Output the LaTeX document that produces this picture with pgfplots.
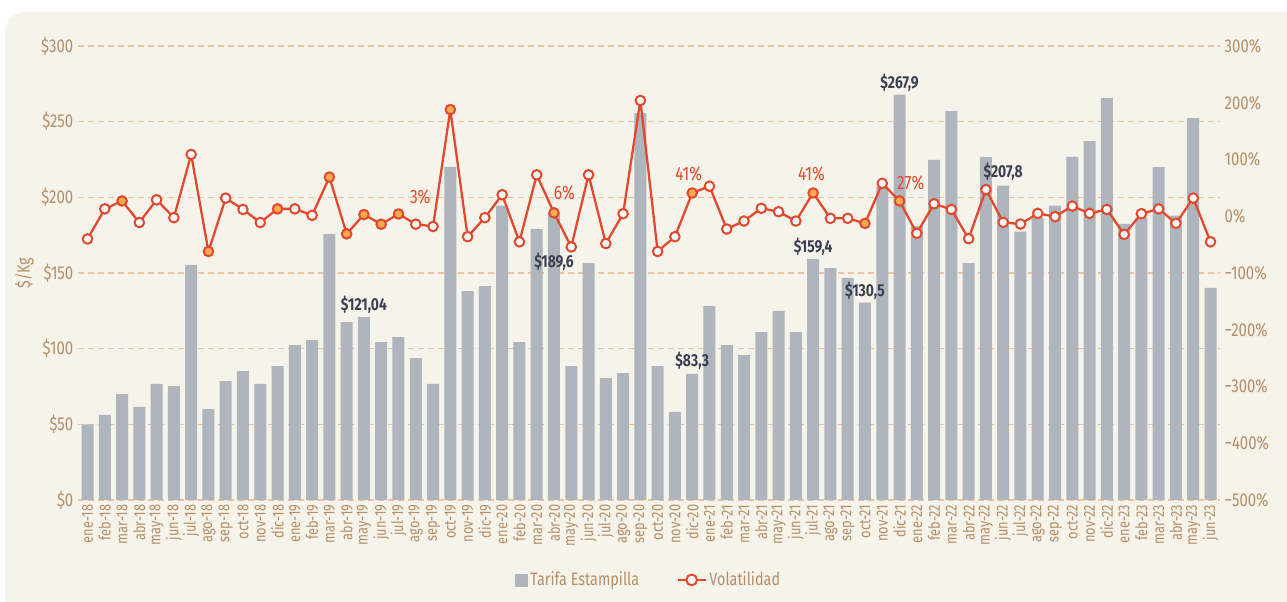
\documentclass[border=0pt]{standalone}
\usepackage{fontspec}
\setmainfont{Fira Sans}[FakeStretch=0.8]
\usepackage{pgfplots}
\pgfplotsset{compat=1.18}
\usepackage{pgfplotstable}
\definecolor{bg}{HTML}{F6F3EA}
\definecolor{barcol}{HTML}{AEB5BD}
\definecolor{linecol}{HTML}{E2482D}
\definecolor{orangefill}{HTML}{FAAA50}
\definecolor{tickcol}{HTML}{B48E68}
\definecolor{gridcol}{HTML}{E9C3A0}
\definecolor{labcol}{HTML}{3C4252}

\pgfplotstableread{
x v
0 50
1 56.2
2 70.0
3 61.5
4 76.7
5 75.3
6 155.3
7 60.1
8 78.6
9 85.2
10 76.7
11 88.5
12 102.4
13 105.7
14 175.8
15 117.6
16 121.04
17 104.4
18 107.7
19 93.8
20 76.7
21 220.2
22 138.1
23 141.4
24 194.5
25 104.4
26 179.1
27 189.6
28 88.5
29 156.6
30 80.6
31 83.9
32 255.7
33 88.5
34 58.2
35 83.3
36 128.2
37 102.4
38 95.8
39 111.0
40 124.9
41 111.0
42 159.4
43 153.3
44 146.7
45 130.5
46 207
47 267.9
48 181
49 224.7
50 257
51 156.6
52 226.7
53 207.8
54 177.3
55 186.4
56 194.6
57 226.7
58 237.2
59 265.6
60 182.4
61 186.6
62 220
63 187.9
64 252.4
65 140.1
}\bardata

\pgfplotstableread{
x v c
0 -40 w
1 13 w
2 27 o
3 -11 w
4 29 w
5 -2.5 w
6 109 w
7 -62 o
8 32 w
9 12 w
10 -11 w
11 13 o
12 13 w
13 1.6 w
14 69 o
15 -31 o
16 3 o
17 -14 o
18 4 o
19 -14 w
20 -18 w
21 188 o
22 -36 w
23 -2.5 w
24 38 w
25 -45 w
26 73 w
27 6 o
28 -54 w
29 73 w
30 -48 w
31 4.5 w
32 204 w
33 -62 w
34 -36 w
35 41 o
36 53 w
37 -22.5 w
38 -8.4 w
39 14 w
40 8 w
41 -8.4 w
42 41 o
43 -3.7 w
44 -3.7 w
45 -12.5 o
46 58 w
47 27 o
48 -30 w
49 22 w
50 12 w
51 -39.5 w
52 47 w
53 -10.7 w
54 -13.7 w
55 5 w
56 -0.7 w
57 18 w
58 5 w
59 12 w
60 -32 w
61 4.5 w
62 13 w
63 -12.5 w
64 32 w
65 -45 w
}\voldata

\begin{document}
\begin{tikzpicture}
\path[use as bounding box] (0,0) rectangle (965.25pt,450.75pt);
\fill[white] (0,0) rectangle (965.25pt,450.75pt);
\fill[bg, rounded corners=15pt] (3.75pt,-12pt) rectangle (978pt,441.75pt);

\begin{axis}[
  at={(58.5pt,75.75pt)}, anchor=south west,
  scale only axis, width=856.5pt, height=340.5pt,
  xmin=-0.55, xmax=65.55, ymin=0, ymax=300,
  axis line style={draw=none}, major tick length=0pt,
  ytick={0,50,...,300},
  yticklabels={\$0,\$50,\$100,\$150,\$200,\$250,\$300},
  yticklabel style={font=\fontsize{14}{14}\selectfont, text=tickcol},
  xtick={0,...,65},
  xticklabels={ene-18,feb-18,mar-18,abr-18,may-18,jun-18,jul-18,ago-18,sep-18,oct-18,nov-18,dic-18,
    ene-19,feb-19,mar-19,abr-19,may-19,jun-19,jul-19,ago-19,sep-19,oct-19,nov-19,dic-19,
    ene-20,feb-20,mar-20,abr-20,may-20,jun-20,jul-20,ago-20,sep-20,oct-20,nov-20,dic-20,
    ene-21,feb-21,mar-21,abr-21,may-21,jun-21,jul-21,ago-21,sep-21,oct-21,nov-21,dic-21,
    ene-22,feb-22,mar-22,abr-22,may-22,jun-22,jul-22,ago-22,sep-22,oct-22,nov-22,dic-22,
    ene-23,feb-23,mar-23,abr-23,may-23,jun-23},
  xticklabel style={rotate=90, anchor=east, font=\fontsize{12}{12}\selectfont, text=tickcol},
  ymajorgrids, grid style={gridcol, dash pattern=on 4.5pt off 3pt, line width=0.8pt},
  ylabel={\$/Kg},
  ylabel style={at={(axis description cs:-0.047,0.5)}, anchor=center, font=\fontsize{13.5}{13.5}\selectfont, text=tickcol},
  clip=false,
]
\addplot[ybar, bar width=9pt, fill=barcol, draw=none] table[x=x,y=v] {\bardata};
\begin{scope}[every node/.style={font=\bfseries\fontsize{13}{13}\selectfont, text=labcol}]
\node at (axis cs:16,128.9) {\$121,04};
\node at (axis cs:27,157.3) {\$189,6};
\node at (axis cs:35,91.9) {\$83,3};
\node at (axis cs:42,167.2) {\$159,4};
\node at (axis cs:45,138.3) {\$130,5};
\node at (axis cs:47,275.4) {\$267,9};
\node at (axis cs:53,216.9) {\$207,8};
\end{scope}
\begin{scope}[every node/.style={font=\fontsize{14.5}{14.5}\selectfont, text=linecol}]
\node at (axis cs:19.26,200.4) {3\%};
\node at (axis cs:27.6,202.7) {6\%};
\node at (axis cs:34.8,215.6) {41\%};
\node at (axis cs:41.9,215.6) {41\%};
\node at (axis cs:47.65,209.8) {27\%};
\end{scope}
\end{axis}

\begin{axis}[
  at={(58.5pt,75.75pt)}, anchor=south west,
  scale only axis, width=856.5pt, height=340.5pt,
  xmin=-0.55, xmax=65.55, ymin=-500, ymax=300,
  hide x axis, axis y line*=right,
  axis line style={draw=none}, major tick length=0pt,
  ytick={-500,-400,...,300},
  yticklabels={−500\%,−400\%,−300\%,−200\%,−100\%,0\%,100\%,200\%,300\%},
  yticklabel style={font=\fontsize{14}{14}\selectfont, text=tickcol},
  clip=false,
  legend style={at={(0.5,-0.176)}, anchor=center, draw=none, fill=none,
    legend columns=2, font=\fontsize{13.5}{13.5}\selectfont, text=tickcol,
    /tikz/every even column/.append style={column sep=26pt}},
]
\addlegendimage{legend image code/.code={\fill[barcol] (0pt,-4.5pt) rectangle (9pt,4.5pt);}}
\addlegendentry{Tarifa Estampilla}
\addlegendimage{legend image code/.code={\draw[linecol,line width=1.7pt] (0pt,0pt)--(21pt,0pt); \draw[linecol,line width=1.5pt,fill=white] (10.5pt,0pt) circle (4pt);}}
\addlegendentry{Volatilidad}
\addplot[linecol, line width=1.7pt, line join=round, forget plot,
  scatter, scatter src=explicit symbolic, mark size=3.6pt,
  scatter/classes={
    w={mark=*, draw=linecol, fill=white, line width=1.5pt},
    o={mark=*, draw=linecol, fill=orangefill, line width=1.5pt}}
] table[x=x,y=v,meta=c] {\voldata};
\end{axis}
\end{tikzpicture}
\end{document}
